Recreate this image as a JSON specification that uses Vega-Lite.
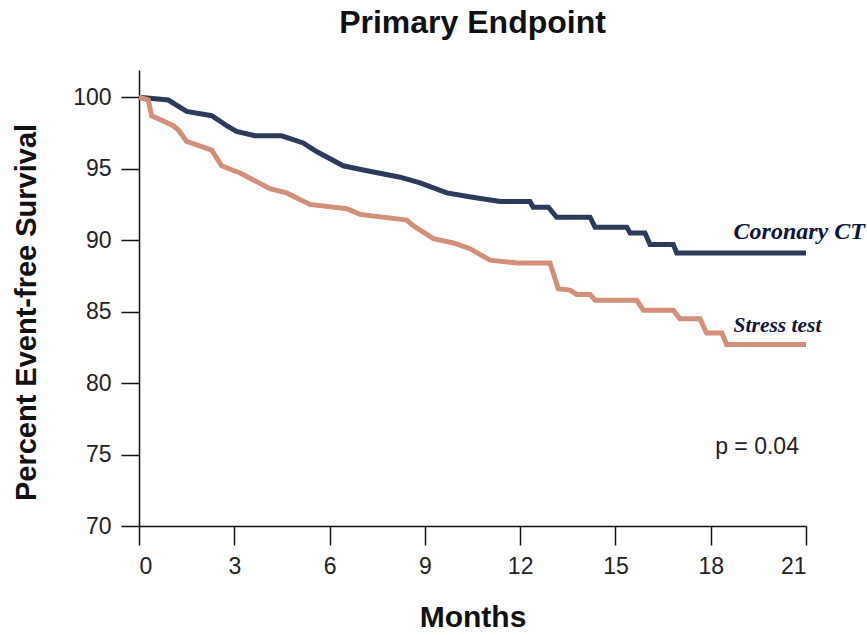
{
  "$schema": "https://vega.github.io/schema/vega-lite/v6.json",
  "width": 667,
  "height": 456,
  "autosize": {"type": "none"},
  "padding": {"left": 139, "top": 70, "right": 61, "bottom": 109},
  "background": "white",
  "title": {"text": "Primary Endpoint", "font": "Liberation Sans", "fontSize": 32, "fontWeight": "bold", "color": "#111", "anchor": "middle", "baseline": "middle", "offset": 0, "dy": -15},
  "config": {"view": {"stroke": null}},
  "datasets": {
    "curves": [
      {"group": "Coronary CT", "month": 0, "survival": 100},
      {"group": "Coronary CT", "month": 0.92, "survival": 99.8},
      {"group": "Coronary CT", "month": 1.5, "survival": 99.0},
      {"group": "Coronary CT", "month": 2.29, "survival": 98.7},
      {"group": "Coronary CT", "month": 2.5, "survival": 98.4},
      {"group": "Coronary CT", "month": 2.76, "survival": 98.0},
      {"group": "Coronary CT", "month": 3.07, "survival": 97.6},
      {"group": "Coronary CT", "month": 3.65, "survival": 97.3},
      {"group": "Coronary CT", "month": 4.49, "survival": 97.3},
      {"group": "Coronary CT", "month": 5.17, "survival": 96.8},
      {"group": "Coronary CT", "month": 5.59, "survival": 96.2},
      {"group": "Coronary CT", "month": 6.43, "survival": 95.2},
      {"group": "Coronary CT", "month": 7.06, "survival": 94.9},
      {"group": "Coronary CT", "month": 8.22, "survival": 94.4},
      {"group": "Coronary CT", "month": 8.85, "survival": 94.0},
      {"group": "Coronary CT", "month": 9.69, "survival": 93.3},
      {"group": "Coronary CT", "month": 10.5, "survival": 93.0},
      {"group": "Coronary CT", "month": 11.37, "survival": 92.7},
      {"group": "Coronary CT", "month": 12.31, "survival": 92.7},
      {"group": "Coronary CT", "month": 12.41, "survival": 92.3},
      {"group": "Coronary CT", "month": 12.89, "survival": 92.3},
      {"group": "Coronary CT", "month": 13.15, "survival": 91.6},
      {"group": "Coronary CT", "month": 14.2, "survival": 91.6},
      {"group": "Coronary CT", "month": 14.36, "survival": 90.9},
      {"group": "Coronary CT", "month": 15.36, "survival": 90.9},
      {"group": "Coronary CT", "month": 15.46, "survival": 90.5},
      {"group": "Coronary CT", "month": 15.93, "survival": 90.5},
      {"group": "Coronary CT", "month": 16.09, "survival": 89.7},
      {"group": "Coronary CT", "month": 16.82, "survival": 89.7},
      {"group": "Coronary CT", "month": 16.93, "survival": 89.1},
      {"group": "Coronary CT", "month": 21, "survival": 89.1},
      {"group": "Stress test", "month": 0, "survival": 100},
      {"group": "Stress test", "month": 0.29, "survival": 99.8},
      {"group": "Stress test", "month": 0.4, "survival": 98.7},
      {"group": "Stress test", "month": 1.08, "survival": 98.0},
      {"group": "Stress test", "month": 1.24, "survival": 97.7},
      {"group": "Stress test", "month": 1.5, "survival": 96.9},
      {"group": "Stress test", "month": 2.29, "survival": 96.3},
      {"group": "Stress test", "month": 2.6, "survival": 95.2},
      {"group": "Stress test", "month": 3.18, "survival": 94.7},
      {"group": "Stress test", "month": 4.12, "survival": 93.6},
      {"group": "Stress test", "month": 4.65, "survival": 93.3},
      {"group": "Stress test", "month": 5.38, "survival": 92.5},
      {"group": "Stress test", "month": 6.54, "survival": 92.2},
      {"group": "Stress test", "month": 6.96, "survival": 91.8},
      {"group": "Stress test", "month": 8.43, "survival": 91.4},
      {"group": "Stress test", "month": 8.64, "survival": 91.0},
      {"group": "Stress test", "month": 9.27, "survival": 90.1},
      {"group": "Stress test", "month": 9.9, "survival": 89.8},
      {"group": "Stress test", "month": 10.42, "survival": 89.4},
      {"group": "Stress test", "month": 11.05, "survival": 88.6},
      {"group": "Stress test", "month": 11.89, "survival": 88.4},
      {"group": "Stress test", "month": 12.94, "survival": 88.4},
      {"group": "Stress test", "month": 13.2, "survival": 86.6},
      {"group": "Stress test", "month": 13.57, "survival": 86.5},
      {"group": "Stress test", "month": 13.78, "survival": 86.2},
      {"group": "Stress test", "month": 14.2, "survival": 86.2},
      {"group": "Stress test", "month": 14.36, "survival": 85.8},
      {"group": "Stress test", "month": 15.67, "survival": 85.8},
      {"group": "Stress test", "month": 15.88, "survival": 85.1},
      {"group": "Stress test", "month": 16.82, "survival": 85.1},
      {"group": "Stress test", "month": 17.03, "survival": 84.5},
      {"group": "Stress test", "month": 17.66, "survival": 84.5},
      {"group": "Stress test", "month": 17.87, "survival": 83.5},
      {"group": "Stress test", "month": 18.35, "survival": 83.5},
      {"group": "Stress test", "month": 18.5, "survival": 82.7},
      {"group": "Stress test", "month": 21, "survival": 82.7}
    ],
    "labels": [
      {"label": "Coronary CT", "month": 18.72, "survival": 90.6, "kind": "Coronary CT"},
      {"label": "Stress test", "month": 18.72, "survival": 84.0, "kind": "Stress test"}
    ],
    "pval": [
      {"label": "p = 0.04", "month": 18.14, "survival": 75.5}
    ]
  },
  "layer": [
    {
      "data": {"name": "curves"},
      "mark": {"type": "line", "strokeWidth": 5, "clip": false},
      "encoding": {
        "x": {
          "field": "month", "type": "quantitative",
          "scale": {"domain": [0, 21], "nice": false, "zero": false},
          "axis": {
            "values": [0, 3, 6, 9, 12, 15, 18, 21],
            "title": "Months", "titleFont": "Liberation Sans", "titleFontSize": 30, "titleFontWeight": "bold", "titleColor": "#111",
            "titleBaseline": "middle", "titleY": 91,
            "labelFont": "Liberation Sans", "labelFontSize": 23, "labelColor": "#222", "labelPadding": 10,
            "domainColor": "#111", "domainWidth": 1.5, "tickColor": "#111", "tickWidth": 1.5, "tickSize": 19, "grid": false
          }
        },
        "y": {
          "field": "survival", "type": "quantitative",
          "scale": {"domain": [70, 101.9], "nice": false, "zero": false},
          "axis": {
            "values": [70, 75, 80, 85, 90, 95, 100],
            "title": "Percent Event-free Survival", "titleFont": "Liberation Sans", "titleFontSize": 29, "titleFontWeight": "bold", "titleColor": "#111",
            "titleX": -113, "titleY": 242, "titleAnchor": "middle", "titleBaseline": "middle",
            "labelFont": "Liberation Sans", "labelFontSize": 23, "labelColor": "#222", "labelPadding": 10,
            "domainColor": "#111", "domainWidth": 1.5, "tickColor": "#111", "tickWidth": 1.5, "tickSize": 18, "grid": false
          }
        },
        "color": {
          "field": "group", "type": "nominal",
          "scale": {"domain": ["Coronary CT", "Stress test"], "range": ["#2c3a5c", "#d48f78"]},
          "legend": null
        }
      }
    },
    {
      "data": {"name": "labels"},
      "mark": {"type": "text", "font": "Liberation Serif", "fontStyle": "italic", "fontWeight": "bold", "align": "left", "baseline": "middle", "color": "#0e1440", "clip": false},
      "encoding": {
        "x": {"field": "month", "type": "quantitative"},
        "y": {"field": "survival", "type": "quantitative"},
        "text": {"field": "label"},
        "size": {"field": "kind", "type": "nominal", "scale": {"domain": ["Coronary CT", "Stress test"], "range": [24, 21.5]}, "legend": null}
      }
    },
    {
      "data": {"name": "pval"},
      "mark": {"type": "text", "font": "Liberation Sans", "fontSize": 23, "align": "left", "baseline": "middle", "color": "#222"},
      "encoding": {
        "x": {"field": "month", "type": "quantitative"},
        "y": {"field": "survival", "type": "quantitative"},
        "text": {"field": "label"}
      }
    }
  ]
}
